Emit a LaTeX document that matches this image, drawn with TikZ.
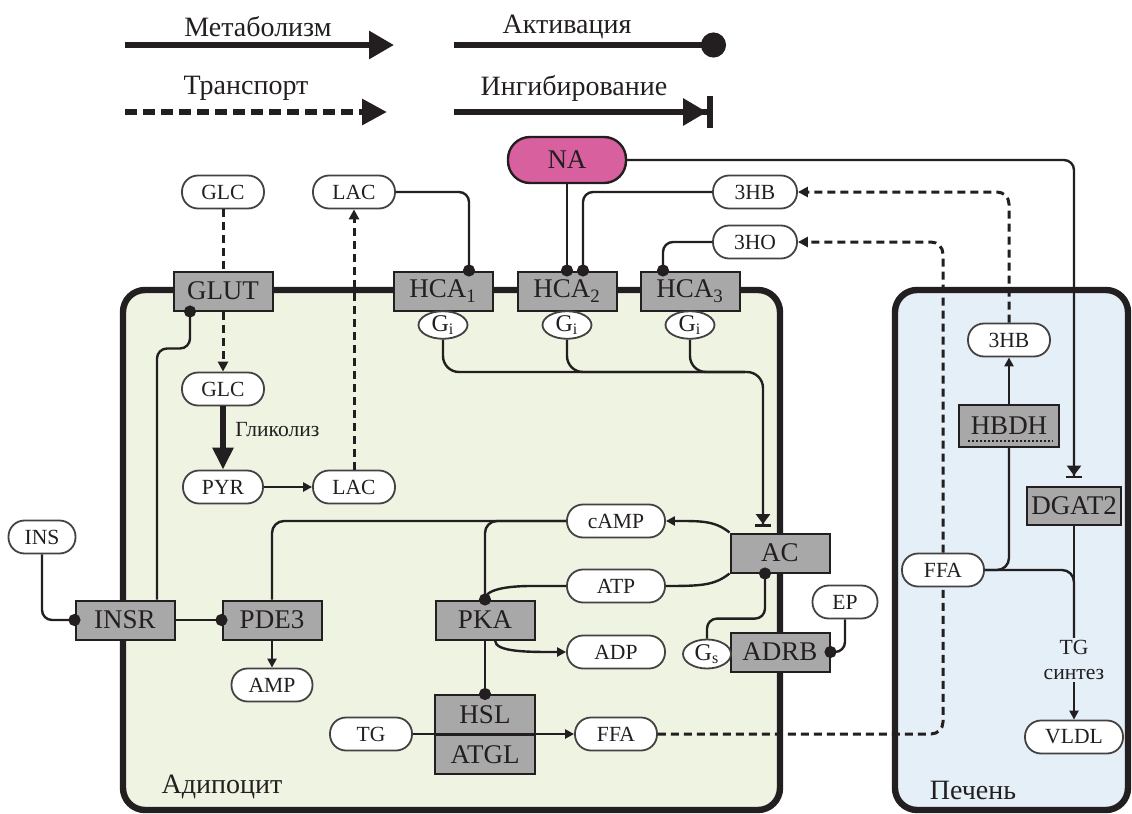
\documentclass[tikz,border=0pt]{standalone}
\usepackage{fontspec}
\setmainfont{Liberation Serif}
\usetikzlibrary{arrows.meta,shapes.geometric}
\definecolor{ink}{HTML}{231F20}
\definecolor{boxgray}{HTML}{A8A8A8}
\definecolor{napink}{HTML}{D9609F}
\definecolor{fatcell}{HTML}{EEF3E2}
\definecolor{livercell}{HTML}{E4EFF8}
\newcommand{\molfont}{\fontsize{10.8}{12.5}\selectfont}
\newcommand{\gfont}{\fontsize{12}{13}\selectfont}
\newcommand{\protfont}{\fontsize{13.5}{15}\selectfont}
\newcommand{\legfont}{\fontsize{14}{16}\selectfont}
\begin{document}
\begin{tikzpicture}[x=0.5pt,y=-0.5pt]
\tikzstyle{every node}=[text=ink]
\tikzstyle{mol}=[draw=ink!85,fill=white,line width=0.9pt,rounded corners=8pt,minimum width=41pt,minimum height=16.5pt,inner sep=1pt,font=\molfont]
\tikzstyle{prot}=[draw=ink,fill=boxgray,line width=1pt,minimum width=49.5pt,minimum height=19.5pt,inner sep=1pt,font=\protfont]
\tikzstyle{gprot}=[draw=ink!85,fill=white,line width=0.9pt,ellipse,minimum width=24.5pt,minimum height=13pt,inner sep=0pt,font=\gfont]
\tikzstyle{cell}=[draw=ink,line width=3.2pt,rounded corners=11pt]
\tikzstyle{plain}=[draw=ink,line width=1.2pt]
\tikzstyle{metab}=[plain,-{Triangle[length=4.5pt,width=4.5pt]}]
\tikzstyle{transport}=[draw=ink,line width=1.5pt,dash pattern=on 4pt off 2.5pt,-{Triangle[length=5pt,width=5pt]}]
\tikzstyle{activ}=[plain,-{Circle[length=6pt]},shorten >=-3pt]
\tikzstyle{inhib}=[plain,-{Triangle[length=5pt,width=7pt]Bar[width=8pt]}]
\useasboundingbox (0,0) rectangle (1132,814);

\node[font=\legfont] (met label) at (258,27) {Метаболизм};
\node[font=\legfont] (act label) at (567,27) {Активация};
\node[font=\legfont] (tr label) at (246,88) {Транспорт};
\node[font=\legfont] (inh label) at (574,88) {Ингибирование};
\coordinate (met a) at (125,45);
\coordinate (met b) at (394,45);
\coordinate (act a) at (454,45);
\coordinate (act b) at (726,45);
\coordinate (tr a) at (125,112);
\coordinate (tr b) at (387,112);
\coordinate (inh a) at (454,112);
\coordinate (inh b) at (713,112);
\draw[draw=ink,line width=3pt,-{Triangle[length=12.5pt,width=13.5pt]}] (met a) -- (met b);
\draw[draw=ink,line width=3pt,-{Circle[length=12.5pt]}] (act a) -- (act b);
\draw[draw=ink,line width=3pt,dash pattern=on 6pt off 3pt,-{Triangle[length=12.5pt,width=12.5pt]}] (tr a) -- (tr b);
\draw[draw=ink,line width=3pt,-{Triangle[length=12pt,width=13pt]Bar[width=16pt,line width=3pt]}] (inh a) -- (inh b);

\draw[cell,fill=fatcell] (123,290) rectangle (780,810);
\draw[cell,fill=livercell] (895,290) rectangle (1128,810);

\node[mol] (glc out) at (223,192) {GLC};
\node[mol] (lac out) at (354,192) {LAC};
\node[draw=ink,fill=napink,line width=1.2pt,rounded corners=11pt,minimum width=59pt,minimum height=23pt,font=\protfont] (na) at (567,160) {NA};
\node[mol,minimum width=42pt] (hb out) at (755,192) {3HB};
\node[mol,minimum width=42pt] (ho out) at (755,242) {3HO};
\node[prot] (glut) at (223,291) {GLUT};
\node[prot] (hca 1) at (443,291) {HCA\textsubscript{1}};
\node[prot] (hca 2) at (567,291) {HCA\textsubscript{2}};
\node[prot] (hca 3) at (690,291) {HCA\textsubscript{3}};
\node[gprot] (gi 1) at (443,325) {G\textsubscript{i}};
\node[gprot] (gi 2) at (567,325) {G\textsubscript{i}};
\node[gprot] (gi 3) at (690,325) {G\textsubscript{i}};
\node[mol] (glc in) at (223,389) {GLC};
\node[mol,minimum width=40pt] (pyr) at (223,487) {PYR};
\node[mol] (lac in) at (354,487) {LAC};
\node[font=\molfont,anchor=west,inner sep=1pt] (glycolysis) at (233,430) {Гликолиз};
\node[mol,minimum width=33.5pt] (ins) at (42,537) {INS};
\node[prot] (insr) at (125,620) {INSR};
\node[prot] (pde3) at (272,620) {PDE3};
\node[mol,minimum width=40.5pt] (amp) at (272,685) {AMP};
\node[mol,minimum width=49pt] (camp) at (616,521) {cAMP};
\node[mol,minimum width=49pt] (atp) at (616,586) {ATP};
\node[mol,minimum width=49pt] (adp) at (616,652) {ADP};
\node[prot] (pka) at (485,620) {PKA};
\node[prot,minimum width=50pt,minimum height=19.75pt] (hsl) at (485,714.75) {HSL};
\node[prot,minimum width=50pt,minimum height=19.75pt] (atgl) at (485,754.25) {ATGL};
\node[mol] (tg) at (371,734) {TG};
\node[mol] (ffa) at (616,734) {FFA};
\node[prot] (ac) at (780,553) {AC};
\node[prot] (adrb) at (780,652) {ADRB};
\node[gprot,minimum width=24pt,minimum height=14.5pt] (gs) at (707,654) {G\textsubscript{s}};
\node[mol,minimum width=32.5pt] (ep) at (845,602) {EP};
\node[font=\legfont] (adipocyte) at (222,787) {Адипоцит};

\node[mol] (hb liver) at (1009,340) {3HB};
\node[prot,minimum width=50pt,minimum height=21pt] (hbdh) at (1009,426) {HBDH};
\node[prot,minimum width=47pt,minimum height=19pt] (dgat2) at (1074,506) {DGAT2};
\node[mol] (ffa liver) at (943,570) {FFA};
\node[font=\molfont,align=center,inner sep=1pt] (tg synth) at (1074,660) {TG\\синтез};
\node[mol,minimum width=49pt] (vldl) at (1074,737) {VLDL};
\node[font=\legfont] (liver) at (973,790) {Печень};
\draw[draw=ink,line width=1pt,dash pattern=on 1pt off 1pt] ([xshift=5pt,yshift=3.5pt]hbdh.south west) -- ([xshift=-3.5pt,yshift=3.5pt]hbdh.south east);

\draw[transport,-] (glc out) -- (glut);
\draw[transport] (glut) -- (glc in);
\draw[draw=ink,line width=3pt,-{Triangle[length=11pt,width=10pt]}] (glc in) -- (pyr);
\draw[metab] (pyr) -- (lac in);
\draw[transport] (lac in) -- (lac out);
\draw[activ,rounded corners=5pt] (lac out.east) -| ([xshift=13pt]hca 1.north);
\draw[activ] (na) -- (hca 2.north);
\draw[activ,rounded corners=5pt] (hb out.west) -| ([xshift=8pt]hca 2.north);
\draw[activ,rounded corners=5pt] (ho out.west) -| ([xshift=-13.5pt]hca 3.north);
\draw[inhib,rounded corners=5pt,shorten >=4pt] (na.east) -| (dgat2.north);
\draw[transport,rounded corners=6pt] (hb liver.north) |- (hb out.east);
\draw[transport,rounded corners=6pt] (ffa liver.north) |- (ho out.east);
\draw[transport,-,rounded corners=6pt] (ffa.east) -| (ffa liver.south);

\coordinate (gi bus) at (763,372);
\draw[inhib,rounded corners=8pt,shorten >=3pt] (gi 1.south) |- (gi bus) -- ([xshift=-8.5pt]ac.north);
\draw[plain,rounded corners=8pt] (gi 2.south) |- ([xshift=-9pt]gi bus);
\draw[plain,rounded corners=8pt] (gi 3.south) |- ([xshift=-9pt]gi bus);

\draw[activ,rounded corners=5pt] (ins.south) |- (insr.west);
\draw[activ,rounded corners=5pt] ([xshift=16pt]insr.north) |- ([xshift=-16.5pt,yshift=-18.5pt]glut.south) -- ([xshift=-16.5pt]glut.south);
\draw[activ] (insr) -- (pde3);
\draw[metab] (pde3) -- (amp);
\draw[plain,rounded corners=6pt] (camp.west) -| (pde3.north);
\draw[activ,rounded corners=6pt] (camp.west) -| (pka.north);
\draw[plain] (atp.west) -- ++(-35,0) .. controls +(-15,0) and +(0,-12) .. (pka.north);
\draw[metab] ([xshift=5pt]pka.south) .. controls +(0,12) and +(-35,0) .. (adp.west);
\draw[activ] (pka) -- (hsl);
\draw[metab] (tg) -- (ffa);
\draw[metab] (ac.north west) .. controls +(-15,-12) and +(35,0) .. (camp.east);
\draw[plain] (ac.south west) .. controls +(-15,12) and +(35,0) .. (atp.east);
\draw[activ,rounded corners=5pt] (gs.north) -- ++(0,-20) -| ([xshift=-7.5pt]ac.south);
\draw[activ,rounded corners=5pt] (ep.south) |- (adrb.east);

\draw[metab] (hbdh) -- (hb liver);
\draw[plain,rounded corners=6pt] (hbdh.south) |- (ffa liver.east);
\draw[plain,rounded corners=6pt] (ffa liver.east) -| (tg synth.north);
\draw[plain] (dgat2.south) -- (tg synth.north);
\draw[metab] (tg synth) -- (vldl);
\end{tikzpicture}
\end{document}
